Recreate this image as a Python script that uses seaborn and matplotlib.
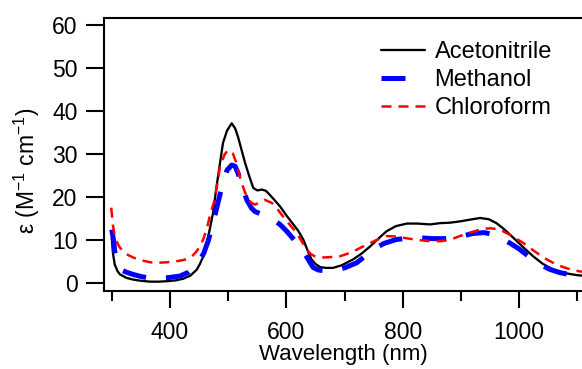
import pandas as pd
import matplotlib
matplotlib.use("Agg")
import matplotlib.pyplot as plt
import seaborn as sns

# Acetonitrile (black solid)
acn_nm = [300, 302, 305, 310, 314, 325, 336, 350, 366, 380, 394, 410, 423, 435, 446, 451,
          458, 466, 474, 480, 486, 491, 498, 506, 512, 517, 523, 529, 536, 543, 550, 558,
          565, 572, 580, 589, 600, 612, 620, 629, 636, 643, 650, 658, 668, 680, 695, 715,
          730, 744, 758, 772, 788, 807, 825, 847, 864, 881, 898, 915, 933, 948, 961, 975,
          990, 1007, 1024, 1040, 1058, 1078, 1100, 1108]
acn_eps = [10.5, 7.0, 4.4, 2.8, 2.1, 1.3, 0.9, 0.6, 0.4, 0.4, 0.5, 0.7, 1.1, 1.8, 3.2, 4.4,
           6.5, 11.0, 16.4, 22.5, 28.0, 32.6, 35.5, 37.2, 36.0, 34.0, 31.0, 28.0, 25.0, 22.2, 21.6, 21.8,
           21.5, 20.5, 19.3, 17.9, 15.8, 13.7, 12.3, 10.2, 7.8, 5.6, 4.5, 3.8, 3.6, 3.6, 4.2, 5.6,
           7.0, 8.6, 10.4, 12.1, 13.3, 13.9, 13.9, 13.7, 14.0, 14.1, 14.4, 14.8, 15.2, 14.9, 14.0, 12.5,
           10.6, 8.4, 6.3, 4.6, 3.2, 2.4, 1.9, 1.8]

# Methanol (blue long dash)
meoh_nm = [300, 303, 305, 310, 315, 325, 336, 350, 366, 380, 395, 417, 432, 446, 458, 466,
           474, 482, 491, 498, 506, 512, 517, 524, 532, 540, 546, 555, 565, 575, 589, 600,
           618, 630, 640, 646, 655, 669, 685, 700, 721, 735, 749, 768, 789, 810, 830, 850,
           870, 886, 905, 921, 940, 955, 967, 985, 1001, 1018, 1036, 1052, 1070, 1085, 1100]
meoh_eps = [12.5, 10.0, 7.5, 4.5, 3.2, 2.6, 2.1, 1.6, 1.2, 1.2, 1.3, 1.7, 2.6, 4.2, 7.0, 10.0,
            14.0, 18.5, 23.4, 26.3, 27.5, 27.2, 25.6, 22.5, 19.4, 17.5, 16.7, 16.2, 15.8, 15.0, 13.7, 12.2,
            9.4, 7.3, 5.0, 3.7, 3.1, 2.9, 3.1, 3.6, 4.8, 6.3, 7.9, 9.3, 10.2, 10.5, 10.6, 10.4,
            10.4, 10.6, 11.1, 11.6, 11.8, 11.4, 10.6, 9.3, 7.9, 6.1, 4.4, 3.3, 2.5, 2.1, 1.9]

# Chloroform (red short dash)
chcl3_nm = [299, 302, 305, 310, 314, 325, 337, 350, 366, 380, 394, 410, 429, 438, 446, 455,
            463, 469, 477, 486, 494, 500, 508, 514, 520, 526, 532, 539, 546, 554, 563, 575,
            585, 594, 606, 618, 627, 635, 642, 649, 660, 675, 692, 712, 732, 752, 772, 787,
            801, 825, 847, 864, 881, 898, 918, 938, 952, 967, 985, 1007, 1027, 1047, 1065, 1082,
            1100, 1108]
chcl3_eps = [17.6, 13.5, 11.0, 9.2, 8.3, 6.8, 6.0, 5.4, 4.9, 4.8, 4.9, 5.1, 5.6, 6.3, 7.5, 9.5,
             12.5, 16.0, 19.5, 27.2, 30.0, 31.0, 30.2, 28.0, 24.8, 22.2, 20.2, 18.8, 18.3, 18.8, 19.4, 18.7,
             17.2, 15.6, 13.6, 11.7, 9.6, 7.9, 6.8, 6.3, 6.0, 6.1, 6.3, 7.2, 8.6, 9.9, 11.0, 10.9,
             10.6, 10.1, 9.8, 9.8, 10.1, 11.0, 11.9, 12.7, 12.8, 12.5, 11.2, 9.4, 7.4, 5.6, 4.3, 3.5,
             2.9, 2.7]

sns.set_style("ticks")
plt.rcParams["font.family"] = ["Liberation Sans", "DejaVu Sans"]
plt.rcParams["mathtext.fontset"] = "custom"
plt.rcParams["mathtext.rm"] = "Liberation Sans"
plt.rcParams["mathtext.default"] = "regular"
plt.rcParams["text.color"] = "black"
plt.rcParams["axes.labelcolor"] = "black"
plt.rcParams["xtick.color"] = "black"
plt.rcParams["ytick.color"] = "black"

fig = plt.figure(figsize=(5.82, 3.69), dpi=100)
ax = fig.add_axes([0.1787, 0.2122, 0.8213, 0.7382])

series = [
    ("Acetonitrile", acn_nm, acn_eps, dict(color="black", lw=1.65, linestyle="-")),
    ("Methanol", meoh_nm, meoh_eps, dict(color="#0000ff", lw=3.6, linestyle=(0, (4.8, 4.0)))),
    ("Chloroform", chcl3_nm, chcl3_eps, dict(color="#ff0000", lw=1.8, linestyle=(0, (4.0, 2.8)))),
]
for name, nm, eps, style in series:
    df = pd.DataFrame({"nm": nm, "eps": eps})
    sns.lineplot(data=df, x="nm", y="eps", ax=ax, sort=False, label=name, **style)

ax.set_xlim(286.6, 1108)
ax.set_ylim(-1.7, 61.6)
ax.set_xticks([400, 600, 800, 1000])
ax.set_xticks([300, 500, 700, 900, 1100], minor=True)
ax.set_yticks([0, 10, 20, 30, 40, 50, 60])

for side in ["left", "top", "bottom"]:
    ax.spines[side].set_linewidth(1.5)
    ax.spines[side].set_color("black")
ax.spines["right"].set_visible(False)

ax.tick_params(axis="y", which="major", direction="out", length=13, width=1.5, pad=6,
               labelsize=16.5, colors="black")
ax.tick_params(axis="x", which="major", direction="out", length=12.5, width=1.5, pad=9,
               labelsize=16.5, colors="black")
ax.tick_params(axis="x", which="minor", direction="out", length=7, width=1.5, colors="black")

ax.set_xlabel("Wavelength (nm)", fontsize=16, labelpad=0)
ax.set_ylabel(r"ε (M$^{-1}$ cm$^{-1}$)", fontsize=16.5)
ax.yaxis.set_label_coords(-0.13, 0.44)

ax.legend(loc="upper left", bbox_to_anchor=(0.5795, 0.915), frameon=False, fontsize=17,
          borderaxespad=0, borderpad=0, handlelength=1.85, handletextpad=0.42,
          labelspacing=0.25)

fig.savefig("out.png", dpi=100)
